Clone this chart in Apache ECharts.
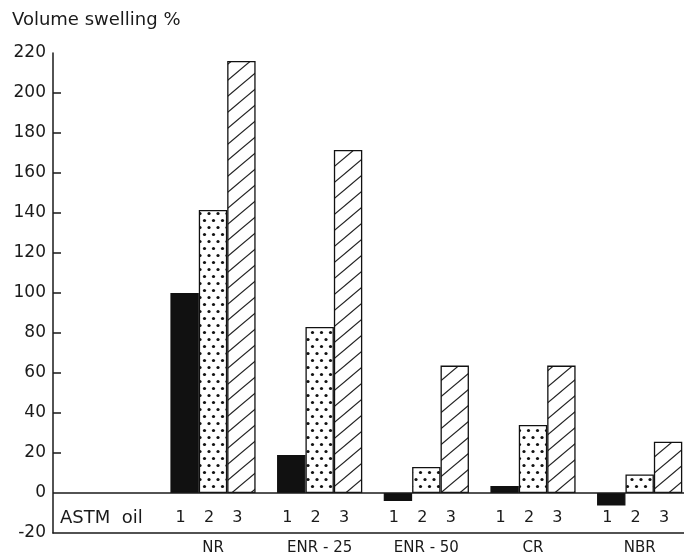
<!DOCTYPE html>
<html><head><meta charset="utf-8">
<script src="https://cdn.jsdelivr.net/npm/echarts@6/dist/echarts.min.js"></script>
<style>html,body{margin:0;padding:0;background:#fff}#c{width:684px;height:555px}</style>
</head><body><div id="c"></div>
<script>
const categories = ['', 'NR', 'ENR - 25', 'ENR - 50', 'CR', 'NBR'];
const oil1 = [null, 100, 19, -4, 3.5, -6.3];
const oil2 = [null, 141.5, 83, 13, 34, 9.3];
const oil3 = [null, 216, 171.5, 63.7, 63.7, 25.6];
const oilLabels = ['1', '2', '3'];
const astmLabel = 'ASTM  oil';
const yTitle = 'Volume swelling %';
const yTicks = [20, 40, 60, 80, 100, 120, 140, 160, 180, 200];
const yMin = -20, yMax = 220, yStep = 20;

const FONT = 'DejaVu Sans';
const INK = '#1a1a1a';
const BW = 28.4;
const LABEL_VAL = -12;

function dotPattern() {
  const c = document.createElement('canvas');
  c.width = 9; c.height = 14;
  const g = c.getContext('2d');
  g.fillStyle = '#fff'; g.fillRect(0, 0, 9, 14);
  g.fillStyle = '#111';
  [[2, 3.5], [6.5, 10.5]].forEach(p => { g.beginPath(); g.arc(p[0], p[1], 1.6, 0, Math.PI * 2); g.fill(); });
  return c;
}
function hatchPattern() {
  const W = 19, H = 16;
  const c = document.createElement('canvas');
  c.width = W; c.height = H;
  const g = c.getContext('2d');
  g.fillStyle = '#fff'; g.fillRect(0, 0, W, H);
  g.strokeStyle = '#222'; g.lineWidth = 1.2;
  for (let k = -1; k <= 1; k++) {
    g.beginPath();
    g.moveTo(-W, 2 * H + k * H);
    g.lineTo(2 * W, -H + k * H);
    g.stroke();
  }
  return c;
}

const chart = echarts.init(document.getElementById('c'), null, { renderer: 'canvas' });
const lineStyle = { color: INK, width: 1.5 };
const option = {
  animation: false,
  backgroundColor: '#fff',
  textStyle: { fontFamily: FONT },
  title: {
    text: yTitle, left: 12, top: 11, padding: 0,
    textStyle: { fontSize: 18, fontWeight: 'normal', color: INK, fontFamily: FONT }
  },
  grid: { left: 53, top: 53, width: 640, height: 480, containLabel: false, outerBoundsMode: 'none' },
  xAxis: {
    type: 'category', data: categories,
    axisLine: { show: true, onZero: false, lineStyle: lineStyle },
    axisTick: { show: false },
    axisLabel: { fontSize: 15, color: INK, margin: 8, fontFamily: FONT }
  },
  yAxis: {
    type: 'value', min: yMin, max: yMax, interval: yStep,
    axisLine: { show: true, lineStyle: lineStyle },
    axisTick: { show: true, inside: true, length: 8, lineStyle: lineStyle, customValues: yTicks },
    axisLabel: { fontSize: 17, color: INK, margin: 7, fontFamily: FONT },
    splitLine: { show: false }
  },
  series: [
    {
      type: 'bar', name: 'oil 1', data: oil1, barWidth: BW, barGap: '0%',
      itemStyle: { color: '#111', borderColor: '#111', borderWidth: 1.2 },
      markLine: {
        silent: true, symbol: ['none', 'none'], label: { show: false },
        lineStyle: { color: INK, width: 1.5, type: 'solid' },
        data: [{ yAxis: 0 }]
      }
    },
    {
      type: 'bar', name: 'oil 2', data: oil2, barWidth: BW, barGap: '0%',
      itemStyle: { color: { image: dotPattern(), repeat: 'repeat' }, borderColor: '#111', borderWidth: 1.3 }
    },
    {
      type: 'bar', name: 'oil 3', data: oil3, barWidth: BW, barGap: '0%',
      itemStyle: { color: { image: hatchPattern(), repeat: 'repeat' }, borderColor: '#111', borderWidth: 1.3 }
    },
    {
      type: 'custom', name: 'labels', clip: false, silent: true, z: 10,
      data: categories.map((c, i) => [i]),
      encode: { x: 0 },
      renderItem: function (params, api) {
        const ci = api.value(0);
        const p = api.coord([ci, LABEL_VAL]);
        const band = api.size([1, 0])[0];
        if (ci === 0) {
          return {
            type: 'text',
            style: { text: astmLabel, x: p[0] - band / 2 + 7, y: p[1] + 1, align: 'left', verticalAlign: 'middle',
              fontSize: 18, fontFamily: FONT, fill: INK }
          };
        }
        return {
          type: 'group',
          children: oilLabels.map((t, k) => ({
            type: 'text',
            style: { text: t, x: p[0] + (k - 1) * BW - 4, y: p[1] + 1, align: 'center', verticalAlign: 'middle',
              fontSize: 16, fontFamily: FONT, fill: INK }
          }))
        };
      }
    }
  ]
};
chart.setOption(option);
</script>
</body></html>
